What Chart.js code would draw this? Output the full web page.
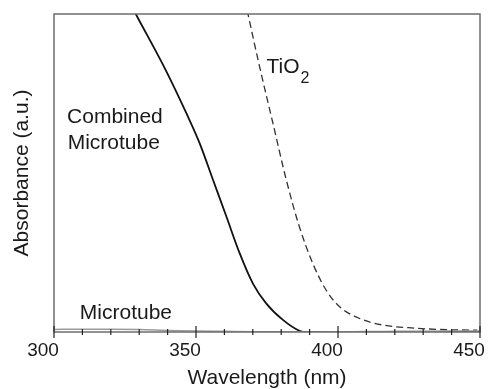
<!DOCTYPE html>
<html><head><meta charset="utf-8">
<script src="https://cdn.jsdelivr.net/npm/chart.js@4/dist/chart.umd.min.js"></script>
<style>html,body{margin:0;padding:0;background:#fff}#wrap{width:489px;height:389px}</style>
</head><body><div id="wrap"><canvas id="c" width="489" height="389"></canvas></div>
<script>
const combinedWl  = [320, 328.8, 339.6, 346.6, 351.3, 356.0, 360.7, 365.4, 370.0, 374.7, 380.6, 386.4, 389, 395, 410, 430, 450];
const combinedAbs = [115, 100, 81.9, 68.8, 59.3, 47.8, 36.3, 24.7, 15.3, 9.0, 3.8, 0.4, 0, 0, 0, 0, 0];
const tio2Wl  = [360, 368.3, 372.4, 377.1, 381.8, 386.4, 391.1, 395.8, 400.5, 407.5, 415.7, 427.4, 439.1, 449];
const tio2Abs = [135, 100, 83.4, 65.6, 47.8, 33.1, 21.6, 13.2, 8.0, 4.3, 2.2, 1.2, 0.7, 0.6];
const microWl  = [300, 310, 320, 330, 340, 350, 360, 370, 380, 390, 400, 410, 420, 430, 440, 450];
const microAbs = [0.8, 0.9, 0.9, 0.8, 0.5, 0.3, 0.2, 0.1, 0.05, 0, 0.05, 0.15, 0.2, 0.25, 0.3, 0.3];
const majorTicks = [300, 350, 400, 450];
const minorTicks = [310, 320, 330, 340, 360, 370, 380, 390, 410, 420, 430, 440];
const labels = [
  {text: 'Combined', x: 304.6, y: 67.6},
  {text: 'Microtube', x: 304.8, y: 59.4},
  {text: 'Microtube', x: 309.1, y: 6},
  {text: 'TiO', x: 374.8, y: 83.3}
];

const FONT = '"Liberation Sans", Arial, Helvetica, sans-serif';
const pts = (xs, ys) => xs.map((x, i) => ({x, y: ys[i]}));

const frame = {
  id: 'frame',
  afterDatasetsDraw(chart) {
    const {ctx, chartArea: a, scales: {x, y}} = chart;
    ctx.save();
    ctx.strokeStyle = '#6e6e6e';
    ctx.lineWidth = 1.5;
    ctx.strokeRect(a.left, a.top, a.right - a.left, a.bottom - a.top);
    ctx.strokeStyle = '#222';
    ctx.lineWidth = 1.2;
    ctx.beginPath();
    majorTicks.forEach(v => { const px = x.getPixelForValue(v); ctx.moveTo(px, a.bottom - 6); ctx.lineTo(px, a.bottom + 6); });
    minorTicks.forEach(v => { const px = x.getPixelForValue(v); ctx.moveTo(px, a.bottom - 3); ctx.lineTo(px, a.bottom + 3); });
    ctx.stroke();
    ctx.fillStyle = '#1a1a1a';
    ctx.font = '21px ' + FONT;
    ctx.textBaseline = 'middle';
    ctx.textAlign = 'left';
    labels.forEach(l => ctx.fillText(l.text, x.getPixelForValue(l.x), y.getPixelForValue(l.y)));
    const tEnd = x.getPixelForValue(labels[3].x) + ctx.measureText('TiO').width;
    ctx.font = '16px ' + FONT;
    ctx.fillText('2', tEnd + 1, y.getPixelForValue(labels[3].y) + 11);
    ctx.restore();
  }
};

new Chart(document.getElementById('c'), {
  type: 'line',
  data: {
    datasets: [
      {data: pts(microWl, microAbs), borderColor: '#9a9a9a', borderWidth: 1.5, pointRadius: 0, cubicInterpolationMode: 'monotone'},
      {data: pts(tio2Wl, tio2Abs), borderColor: '#333', borderWidth: 1.3, borderDash: [7, 4], pointRadius: 0, cubicInterpolationMode: 'monotone'},
      {data: pts(combinedWl, combinedAbs), borderColor: '#111', borderWidth: 1.8, pointRadius: 0, cubicInterpolationMode: 'monotone'}
    ]
  },
  options: {
    responsive: false,
    animation: false,
    layout: {padding: {top: 14, right: 9, left: 0, bottom: 0}},
    plugins: {legend: {display: false}, tooltip: {enabled: false}},
    scales: {
      x: {
        type: 'linear', min: 300, max: 450,
        grid: {display: false, drawTicks: false},
        border: {display: false},
        ticks: {stepSize: 50, color: '#1a1a1a', font: {family: FONT, size: 19}, padding: 7, maxRotation: 0, labelOffset: -11,
                callback: v => majorTicks.includes(v) ? String(v) : ''},
        title: {display: true, text: 'Wavelength (nm)', color: '#1a1a1a', font: {family: FONT, size: 21, lineHeight: 1}, padding: {top: 0, bottom: 0}},
        afterFit(s) { s.height = 57; s.paddingLeft = 0; s.paddingRight = 0; }
      },
      y: {
        min: 0, max: 100,
        grid: {display: false},
        border: {display: false},
        ticks: {display: false},
        title: {display: true, text: 'Absorbance (a.u.)', color: '#1a1a1a', font: {family: FONT, size: 21}, padding: {top: 10, bottom: 0}},
        afterFit(s) { s.width = 54; }
      }
    }
  },
  plugins: [frame]
});
</script>
</body></html>
